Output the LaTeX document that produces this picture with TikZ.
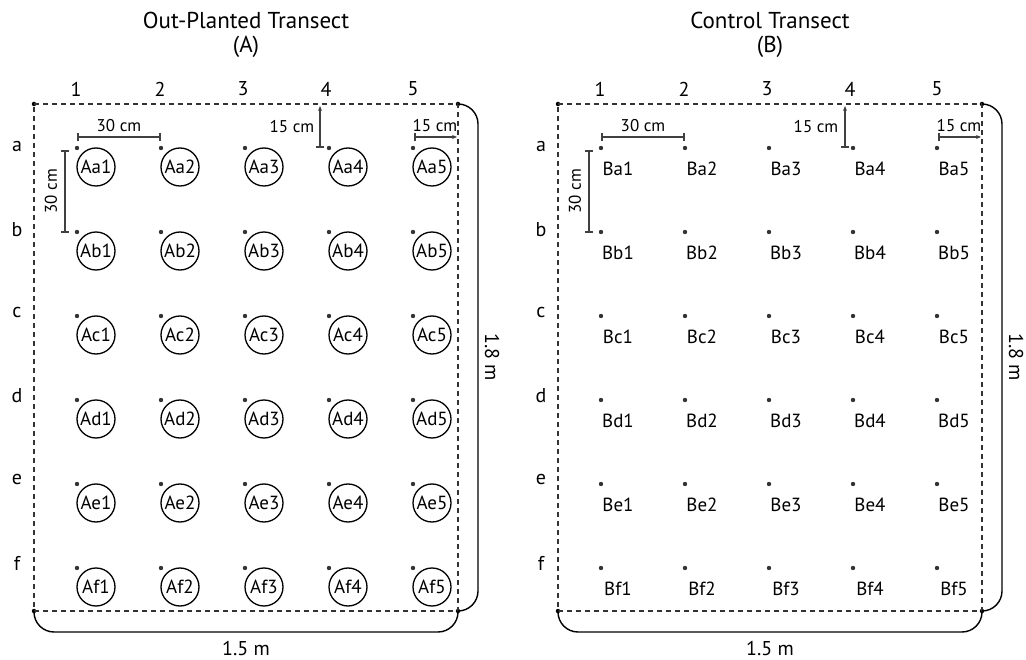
\documentclass[tikz,border=0pt]{standalone}
\usepackage{fontspec}
\setmainfont{PT Sans}
\usetikzlibrary{arrows.meta}
\begin{document}
\begin{tikzpicture}[x=1pt,y=-1pt,
  ttl/.style={font=\fontsize{23}{25}\selectfont},
  axlbl/.style={font=\fontsize{20}{22}\selectfont},
  cell/.style={circle,draw,line width=1.3pt,minimum size=38pt,inner sep=0pt,font=\fontsize{19}{21}\selectfont},
  plain/.style={inner sep=0pt,font=\fontsize{19}{21}\selectfont},
  dimlbl/.style={inner sep=0pt,font=\fontsize{17}{19}\selectfont},
  pt/.style={circle,fill=black!80,inner sep=0pt,minimum size=4.4pt},
  border/.style={dashed,dash pattern=on 5pt off 4pt,line width=1.8pt,black!80},
  brace/.style={line width=1.4pt,rounded corners=20pt},
  dimline/.style={line width=1.7pt,black!75},
  corner/.style={circle,fill=black,inner sep=0pt,minimum size=4.5pt}]
\useasboundingbox (0,0) rectangle (1026,660);

% titles
\node[ttl] (tA) at (246,20) {Out-Planted Transect};
\node[ttl] (tAb) at (246,47) {(A)};
\node[ttl] (tB) at (770,20) {Control Transect};
\node[ttl] (tBb) at (770,47) {(B)};

\foreach \P/\ox in {A/0,B/524}{
  % frame corners
  \node[corner] (\P tl) at (34+\ox,104) {};
  \node[corner] (\P tr) at (458+\ox,104) {};
  \node[corner] (\P bl) at (34+\ox,611) {};
  \node[corner] (\P br) at (458+\ox,611) {};
  \draw[border] (\P tl.center) -- (\P tr.center) -- (\P br.center) -- (\P bl.center) -- cycle;
  % braces
  \draw[brace] (\P tr.center) -- (478+\ox,104) -- (478+\ox,611) -- (\P br.center);
  \draw[brace] (\P bl.center) -- (34+\ox,632) -- (458+\ox,632) -- (\P br.center);
  \node[axlbl,rotate=-90] (\P h) at (492+\ox,357) {1.8 m};
  \node[axlbl] (\P w) at (246+\ox,648) {1.5 m};
  % column labels
  \foreach \c/\cx in {1/76,2/160,3/243,4/326,5/413}{
    \node[axlbl] (\P col\c) at (\cx+\ox,89) {\c};
  }
  % row labels
  \foreach \r/\ry in {a/147,b/230,c/313,d/396,e/479,f/563}{
    \node[axlbl] (\P row\r) at (17+\ox,\ry) {\r};
  }
}

% grid of points
\foreach \r [count=\j from 0] in {a,b,c,d,e,f}{
  \foreach \c [count=\i from 0] in {1,2,3,4,5}{
    \pgfmathsetmacro{\dx}{77+84*\i}
    \pgfmathsetmacro{\dy}{148+84*\j}
    \node[pt] (A\r\c p) at (\dx,\dy) {};
    \node[cell] (A\r\c) at (\dx+19,\dy+19) {A\r\c};
    \node[pt] (B\r\c p) at (\dx+524,\dy) {};
    \node[plain] (B\r\c) at (\dx+524+17,\dy+21) {B\r\c};
  }
}

% dimension annotations
\foreach \P/\ox in {A/0,B/524}{
  \coordinate (\P h1) at (77+\ox,137);
  \coordinate (\P h2) at (161+\ox,137);
  \draw[dimline,{Bar[width=8pt]}-{Bar[width=8pt]}] (\P h1) -- (\P h2);
  \node[dimlbl] (\P h30) at (119+\ox,126) {30 cm};
  \coordinate (\P v1) at (65+\ox,150);
  \coordinate (\P v2) at (65+\ox,233);
  \draw[dimline,{Bar[width=8pt]}-{Bar[width=8pt]}] (\P v1) -- (\P v2);
  \node[dimlbl,rotate=90] (\P v30) at (51+\ox,191) {30 cm};
  \coordinate (\P r1) at (414+\ox,137);
  \coordinate (\P r2) at (457+\ox,137);
  \draw[dimline,{Bar[width=8pt]}-{Stealth[length=5pt,width=4pt]}] (\P r1) -- (\P r2);
  \node[dimlbl] (\P r15) at (435+\ox,126) {15 cm};
}
\coordinate (As1) at (320,148);
\coordinate (As2) at (320,106);
\draw[dimline,{Bar[width=8pt]}-{Stealth[length=5pt,width=4pt]}] (As1) -- (As2);
\node[dimlbl] (As15) at (292,127) {15 cm};
\coordinate (Bs1) at (845,148);
\coordinate (Bs2) at (845,106);
\draw[dimline,{Bar[width=8pt]}-{Stealth[length=5pt,width=4pt]}] (Bs1) -- (Bs2);
\node[dimlbl] (Bs15) at (816,127) {15 cm};
\end{tikzpicture}
\end{document}
